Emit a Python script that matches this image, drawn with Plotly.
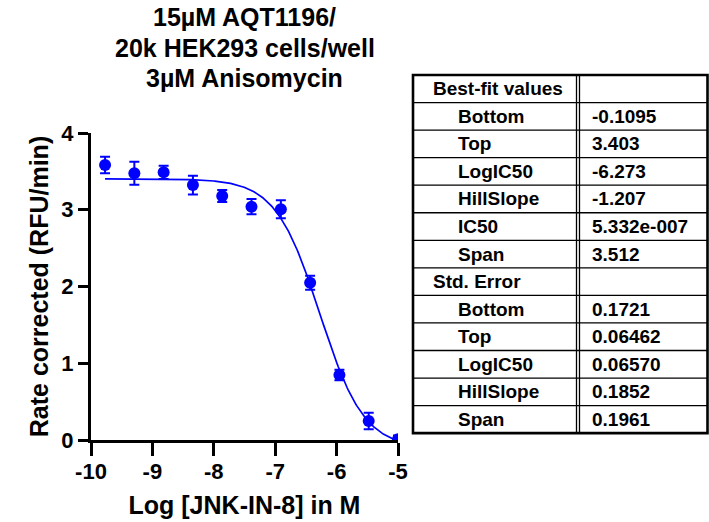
import numpy as np
import plotly.graph_objects as go

# ---------------- data ----------------
log_conc = [-9.771, -9.294, -8.817, -8.340, -7.863, -7.386, -6.908, -6.431, -5.954, -5.477, -5.000]
rate = [3.583, 3.475, 3.488, 3.322, 3.179, 3.040, 3.006, 2.050, 0.847, 0.248, 0.010]
sem = [0.108, 0.150, 0.086, 0.122, 0.078, 0.100, 0.117, 0.091, 0.069, 0.108, 0.050]

# fitted parameters (log(inhibitor) vs response, variable slope)
fit_bottom = -0.1095
fit_top = 3.403
fit_logic50 = -6.273
fit_hillslope = -1.207

best_fit_names = ["Bottom", "Top", "LogIC50", "HillSlope", "IC50", "Span"]
best_fit_values = ["-0.1095", "3.403", "-6.273", "-1.207", "5.332e-007", "3.512"]
std_error_names = ["Bottom", "Top", "LogIC50", "HillSlope", "Span"]
std_error_values = ["0.1721", "0.06462", "0.06570", "0.1852", "0.1961"]

x_ticks = [-10, -9, -8, -7, -6, -5]
y_ticks = [0, 1, 2, 3, 4]

title_lines = ["15µM AQT1196/", "20k HEK293 cells/well", "3µM Anisomycin"]

FONT = "Liberation Sans, Arial, sans-serif"
BLUE = "#0000FF"

# ---------------- layout geometry (pixels) ----------------
W, H = 709, 522
PL, PR, PT, PB = 91, 398, 133, 440  # plot area


def px_x(px):
    return (px - PL) / (PR - PL)


def px_y(py):
    return (PB - py) / (PB - PT)


fig = go.Figure()

# fitted curve
xc = np.linspace(log_conc[0], log_conc[-1], 300)
yc = fit_bottom + (fit_top - fit_bottom) / (1 + 10 ** ((fit_logic50 - xc) * fit_hillslope))
fig.add_trace(go.Scatter(x=xc, y=yc, mode="lines", line=dict(color=BLUE, width=1.7),
                         hoverinfo="skip", showlegend=False))

# data points with error bars
fig.add_trace(go.Scatter(
    x=log_conc, y=rate, mode="markers",
    marker=dict(color=BLUE, size=12),
    error_y=dict(type="data", array=sem, visible=True, color=BLUE, thickness=2, width=5),
    showlegend=False, cliponaxis=True,
))

# ---------------- table ----------------
rows = [("Best-fit values", "", False)]
rows += [(n, v, True) for n, v in zip(best_fit_names, best_fit_values)]
rows += [("Std. Error", "", False)]
rows += [(n, v, True) for n, v in zip(std_error_names, std_error_values)]

TL, TM, TR, TT = 413, 578, 707.5, 75
RH = 27.55
TB = TT + RH * len(rows)

shapes = []
annotations = []
for i in range(1, len(rows)):
    yy = TT + RH * i
    shapes.append(dict(type="line", xref="paper", yref="paper",
                       x0=px_x(TL), x1=px_x(TR), y0=px_y(yy), y1=px_y(yy),
                       line=dict(color="black", width=1.3)))
# column divider (double)
for xx in (576.5, 579.5):
    shapes.append(dict(type="line", xref="paper", yref="paper",
                       x0=px_x(xx), x1=px_x(xx), y0=px_y(TT), y1=px_y(TB),
                       line=dict(color="black", width=1.3)))
# outer border
shapes.append(dict(type="rect", xref="paper", yref="paper",
                   x0=px_x(TL), x1=px_x(TR), y0=px_y(TT), y1=px_y(TB),
                   line=dict(color="black", width=2.6)))

for i, (name, val, indent) in enumerate(rows):
    yc_px = TT + RH * (i + 0.5)
    annotations.append(dict(xref="paper", yref="paper", x=px_x(456 if indent else 430.5), y=px_y(yc_px),
                            text=name, showarrow=False, xanchor="left", yanchor="middle",
                            font=dict(family=FONT, size=19, color="black", weight="bold")))
    if val:
        annotations.append(dict(xref="paper", yref="paper", x=px_x(589.5), y=px_y(yc_px),
                                text=val, showarrow=False, xanchor="left", yanchor="middle",
                                font=dict(family=FONT, size=19, color="black", weight="bold")))

# chart title (three centered lines above the plot area)
title_centers = [17, 48, 78.5]
for line, cy in zip(title_lines, title_centers):
    annotations.append(dict(xref="paper", yref="paper", x=0.5, y=px_y(cy),
                            text=line, showarrow=False, xanchor="center", yanchor="middle",
                            font=dict(family=FONT, size=25, color="black", weight="bold")))

fig.update_layout(
    width=W, height=H,
    margin=dict(l=PL, r=W - PR, t=PT, b=H - PB, pad=0),
    paper_bgcolor="white", plot_bgcolor="white",
    font=dict(family=FONT, color="black"),
    xaxis=dict(range=[-10, -5], tickvals=x_ticks, ticktext=[str(t) for t in x_ticks],
               automargin=False,
               showgrid=False, zeroline=False, showline=True, linecolor="black", linewidth=3,
               ticks="outside", ticklen=13, tickwidth=3, tickcolor="black",
               ticklabelstandoff=-3,
               tickfont=dict(family=FONT, size=22, color="black", weight="bold"),
               title=dict(text="Log [JNK-IN-8] in M", standoff=14,
                          font=dict(family=FONT, size=25, color="black", weight="bold"))),
    yaxis=dict(range=[0, 4], tickvals=y_ticks, ticktext=[str(t) for t in y_ticks],
               automargin=False,
               showgrid=False, zeroline=False, showline=True, linecolor="black", linewidth=3,
               ticks="outside", ticklen=10, tickwidth=3, tickcolor="black",
               tickfont=dict(family=FONT, size=22, color="black", weight="bold"),
               title=dict(text="Rate corrected (RFU/min)", standoff=6,
                          font=dict(family=FONT, size=25, color="black", weight="bold"))),
    shapes=shapes, annotations=annotations,
)

fig.write_html("out.html")
